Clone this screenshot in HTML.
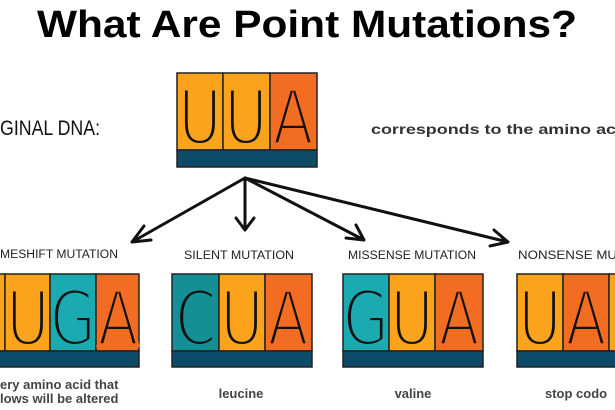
<!DOCTYPE html>
<html><head><meta charset="utf-8"><style>
html,body{margin:0;padding:0;background:#fff;width:615px;height:410px;overflow:hidden}
svg{display:block}
text{font-family:"Liberation Sans",sans-serif}
.L text{font-family:"DejaVu Sans",sans-serif;fill:#111;stroke-width:4;paint-order:fill stroke}
.y{stroke:#FBA31A}.o{stroke:#F26D21}.t{stroke:#1AAAB0}.d{stroke:#148F95}
</style></head><body>
<svg width="615" height="410" viewBox="0 0 615 410" xmlns="http://www.w3.org/2000/svg">
<text x="307" y="37" text-anchor="middle" font-size="38" font-weight="bold" fill="#000" textLength="540" lengthAdjust="spacingAndGlyphs">What Are Point Mutations?</text>
<text x="0" y="135" font-size="21" fill="#111" textLength="100" lengthAdjust="spacingAndGlyphs">GINAL DNA:</text>
<text x="371" y="134" font-size="14" font-weight="bold" fill="#333" textLength="250" lengthAdjust="spacingAndGlyphs">corresponds to the amino aci</text>

<g stroke="#222" stroke-width="1.5">
<rect x="177" y="73" width="46" height="77" fill="#FBA31A"/>
<rect x="223" y="73" width="47" height="77" fill="#FBA31A"/>
<rect x="270" y="73" width="47" height="77" fill="#F26D21"/>
<rect x="177" y="150" width="140" height="17" fill="#0E4B68"/>
</g>
<g class="L" font-size="76" text-anchor="middle">
<text class="y" transform="translate(200,144) scale(0.78,1)">U</text>
<text class="y" transform="translate(246,144) scale(0.78,1)">U</text>
<text class="o" transform="translate(293,144) scale(0.78,1)">A</text>
</g>

<g stroke="#111" stroke-width="3" fill="none" stroke-linecap="round" stroke-linejoin="round">
<path d="M245 178 L132 242 M132 242 L144 226 M132 242 L151 240"/>
<path d="M245 178 L245 230 M236 218 L245 230 L254 218"/>
<path d="M245 178 L364 240 M364 240 L346 238 M364 240 L356 225"/>
<path d="M245 178 L508 242 M508 242 L490 246 M508 242 L494 230"/>
</g>

<g font-size="11.5" fill="#222">
<text x="0" y="258" textLength="118" lengthAdjust="spacingAndGlyphs">MESHIFT MUTATION</text>
<text x="184" y="259" textLength="110" lengthAdjust="spacingAndGlyphs">SILENT MUTATION</text>
<text x="348" y="259" textLength="128" lengthAdjust="spacingAndGlyphs">MISSENSE MUTATION</text>
<text x="518" y="259" textLength="115" lengthAdjust="spacingAndGlyphs">NONSENSE MUTA</text>
</g>

<g stroke="#222" stroke-width="1.5">
<rect x="-5" y="274" width="10" height="77" fill="#FBA31A"/>
<rect x="5" y="274" width="45" height="77" fill="#FBA31A"/>
<rect x="50" y="274" width="46" height="77" fill="#1AAAB0"/>
<rect x="96" y="274" width="43" height="77" fill="#F26D21"/>
<rect x="-5" y="351" width="144" height="16" fill="#0E4B68"/>

<rect x="172" y="274" width="47" height="77" fill="#148F95"/>
<rect x="219" y="274" width="46" height="77" fill="#FBA31A"/>
<rect x="265" y="274" width="47" height="77" fill="#F26D21"/>
<rect x="172" y="351" width="140" height="16" fill="#0E4B68"/>

<rect x="343" y="274" width="46" height="77" fill="#1AAAB0"/>
<rect x="389" y="274" width="46" height="77" fill="#FBA31A"/>
<rect x="435" y="274" width="48" height="77" fill="#F26D21"/>
<rect x="343" y="351" width="140" height="16" fill="#0E4B68"/>

<rect x="517" y="274" width="46" height="77" fill="#FBA31A"/>
<rect x="563" y="274" width="46" height="77" fill="#F26D21"/>
<rect x="609" y="274" width="20" height="77" fill="#FBA31A"/>
<rect x="517" y="351" width="110" height="16" fill="#0E4B68"/>
</g>
<g class="L" font-size="76" text-anchor="middle">
<text class="y" transform="translate(28,345) scale(0.78,1)">U</text>
<text class="t" transform="translate(73,345) scale(0.78,1)">G</text>
<text class="o" transform="translate(118,345) scale(0.78,1)">A</text>
<text class="d" transform="translate(196,345) scale(0.78,1)">C</text>
<text class="y" transform="translate(242,345) scale(0.78,1)">U</text>
<text class="o" transform="translate(288,345) scale(0.78,1)">A</text>
<text class="t" transform="translate(366,345) scale(0.78,1)">G</text>
<text class="y" transform="translate(412,345) scale(0.78,1)">U</text>
<text class="o" transform="translate(459,345) scale(0.78,1)">A</text>
<text class="y" transform="translate(540,345) scale(0.78,1)">U</text>
<text class="o" transform="translate(586,345) scale(0.78,1)">A</text>
</g>

<g font-size="13" font-weight="bold" fill="#444">
<text x="0" y="389">ery amino acid that</text>
<text x="0" y="403">lows will be altered</text>
<text x="241" y="398" text-anchor="middle">leucine</text>
<text x="413" y="398" text-anchor="middle">valine</text>
<text x="545" y="398">stop codo</text>
</g>
</svg>
</body></html>
